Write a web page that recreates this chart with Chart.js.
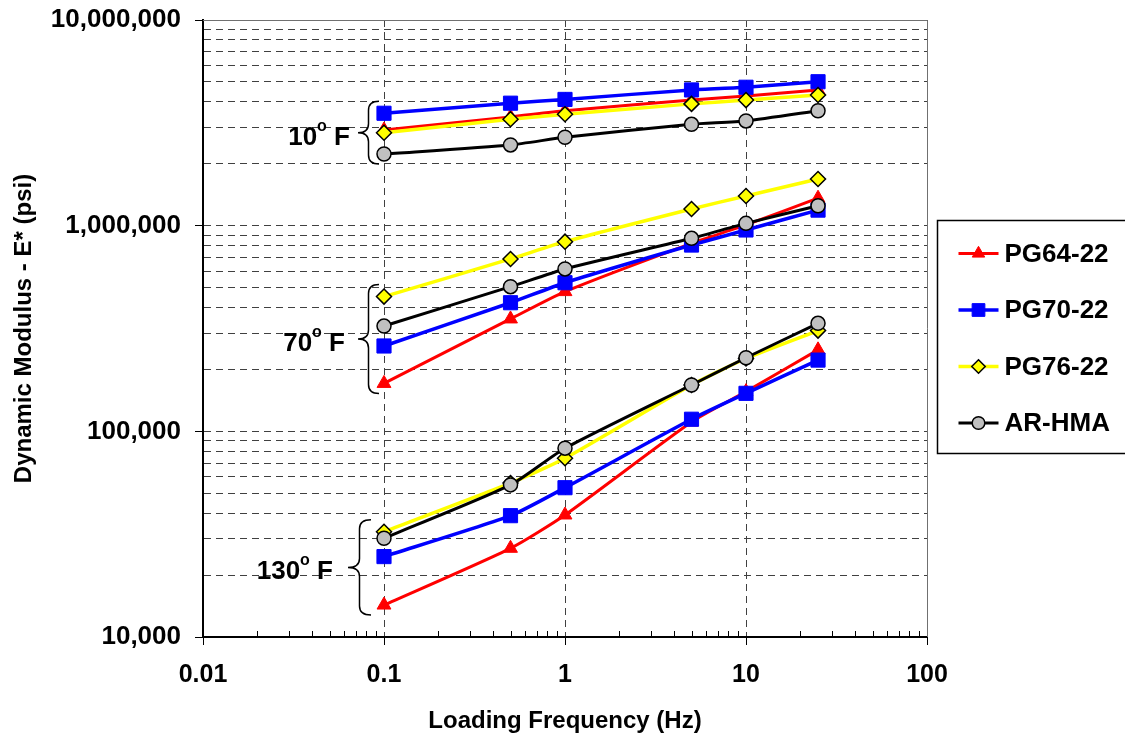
<!DOCTYPE html>
<html>
<head>
<meta charset="utf-8">
<title>Dynamic Modulus vs Loading Frequency</title>
<script src="https://cdn.jsdelivr.net/npm/chart.js@4.4.1/dist/chart.umd.min.js"></script>
<style>
    html, body { margin: 0; padding: 0; background: #fff; }
    #wrap { width: 1125px; height: 740px; }
</style>
</head>
<body>
<div id="wrap"><canvas id="modulusChart" width="1125" height="740"></canvas></div>
<script>
// --- Data ---
const freqs = [0.1, 0.5, 1, 5, 10, 25];

const pg6422_10F  = [2920000, 3380000, 3620000, 4080000, 4270000, 4570000];
const pg6422_70F  = [171000, 352000, 478000, 821000, 1008000, 1360000];
const pg6422_130F = [14300, 27000, 39200, 111000, 156000, 249000];

const pg7022_10F  = [3520000, 3940000, 4110000, 4570000, 4710000, 5010000];
const pg7022_70F  = [260000, 422000, 528000, 805000, 953000, 1190000];
const pg7022_130F = [24600, 38900, 53200, 114500, 153000, 222000];

const pg7622_10F  = [2830000, 3290000, 3480000, 3910000, 4080000, 4320000];
const pg7622_70F  = [452000, 689000, 836000, 1206000, 1394000, 1687000];
const pg7622_130F = [32500, 56000, 74000, 168000, 226000, 309000];

const arhma_10F  = [2230000, 2470000, 2690000, 3110000, 3230000, 3620000];
const arhma_70F  = [325000, 505000, 616000, 868000, 1026000, 1250000];
const arhma_130F = [30200, 54900, 82800, 168000, 228000, 335000];

const xTickValues = [0.01, 0.1, 1, 10, 100];
const yTickValues = [10000, 100000, 1000000, 10000000];
const tempLabels = ['10', '70', '130'];

const FONT = 'Arial, "Liberation Sans", Helvetica, sans-serif';

// --- Series styles ---
const series = [
    { label: 'PG64-22', groups: [pg6422_10F, pg6422_70F, pg6422_130F],
      line: '#FF0000', fill: '#FF0000', stroke: '#FF0000', style: 'triangle', radius: 8, bw: 1, lw: 3, order: 4 },
    { label: 'PG70-22', groups: [pg7022_10F, pg7022_70F, pg7022_130F],
      line: '#0000FF', fill: '#0000FF', stroke: '#0000FF', style: 'rect', radius: 10, bw: 1, lw: 3.5, order: 3 },
    { label: 'PG76-22', groups: [pg7622_10F, pg7622_70F, pg7622_130F],
      line: '#FFFF00', fill: '#FFFF00', stroke: '#000000', style: 'rectRot', radius: 7.5, bw: 1.5, lw: 3.5, order: 2 },
    { label: 'AR-HMA', groups: [arhma_10F, arhma_70F, arhma_130F],
      line: '#000000', fill: '#C0C0C0', stroke: '#000000', style: 'circle', radius: 7, bw: 1.5, lw: 3, order: 1 }
];

// one dataset per material per temperature so the groups are not joined
const datasets = [];
series.forEach(s => {
    s.groups.forEach(vals => {
        datasets.push({
            label: s.label,
            data: freqs.map((f, i) => ({ x: f, y: vals[i] })),
            borderColor: s.line,
            borderWidth: s.lw,
            backgroundColor: s.fill,
            pointStyle: s.style,
            pointRadius: s.radius,
            pointHoverRadius: s.radius,
            pointBackgroundColor: s.fill,
            pointBorderColor: s.stroke,
            pointBorderWidth: s.bw,
            tension: 0.2,
            fill: false,
            order: s.order
        });
    });
});

function isDecade(v) {
    const l = Math.log10(v);
    return Math.abs(l - Math.round(l)) < 1e-9;
}

function logTicks(lo, hi) {
    const out = [];
    for (let e = lo; e < hi; e++) {
        for (let m = 1; m <= 9; m++) {
            out.push({ value: Number((m * Math.pow(10, e)).toPrecision(3)) });
        }
    }
    out.push({ value: Math.pow(10, hi) });
    return out;
}

function drawMarker(ctx, style, x, y, r, fill, stroke, bw) {
    ctx.save();
    ctx.fillStyle = fill;
    ctx.strokeStyle = stroke;
    ctx.lineWidth = bw;
    ctx.beginPath();
    if (style === 'rect') {
        const s = Math.SQRT1_2 * r;
        ctx.rect(x - s, y - s, 2 * s, 2 * s);
    } else if (style === 'rectRot') {
        ctx.moveTo(x, y - r); ctx.lineTo(x + r, y); ctx.lineTo(x, y + r); ctx.lineTo(x - r, y);
        ctx.closePath();
    } else if (style === 'triangle') {
        ctx.moveTo(x, y - r);
        ctx.lineTo(x + r * 0.866, y + r * 0.5);
        ctx.lineTo(x - r * 0.866, y + r * 0.5);
        ctx.closePath();
    } else {
        ctx.arc(x, y, r, 0, Math.PI * 2);
    }
    ctx.fill();
    ctx.stroke();
    ctx.restore();
}

function drawBrace(ctx, xTip, xRight, yTop, yBot) {
    const yMid = (yTop + yBot) / 2;
    const xm = (xTip + xRight) / 2;
    const r = 9;
    ctx.beginPath();
    ctx.moveTo(xRight, yTop);
    ctx.quadraticCurveTo(xm, yTop, xm, yTop + r);
    ctx.lineTo(xm, yMid - r);
    ctx.quadraticCurveTo(xm, yMid, xTip, yMid);
    ctx.quadraticCurveTo(xm, yMid, xm, yMid + r);
    ctx.lineTo(xm, yBot - r);
    ctx.quadraticCurveTo(xm, yBot, xRight, yBot);
    ctx.stroke();
}

// frame, inner minor ticks, temperature braces and the boxed legend
const extrasPlugin = {
    id: 'extras',
    beforeDatasetsDraw(chart) {
        const { ctx, chartArea: a, scales: { x } } = chart;
        ctx.save();
        // top / right frame
        ctx.strokeStyle = '#707070';
        ctx.lineWidth = 1;
        ctx.beginPath();
        ctx.moveTo(a.left, a.top + 0.5); ctx.lineTo(a.right + 0.5, a.top + 0.5);
        ctx.lineTo(a.right + 0.5, a.bottom);
        ctx.stroke();
        // minor x ticks pointing into the plot
        ctx.strokeStyle = '#000';
        ctx.lineWidth = 1;
        for (let e = -2; e < 2; e++) {
            for (let m = 2; m <= 9; m++) {
                const px = Math.round(x.getPixelForValue(m * Math.pow(10, e))) + 0.5;
                ctx.beginPath();
                ctx.moveTo(px, a.bottom);
                ctx.lineTo(px, a.bottom - 6);
                ctx.stroke();
            }
        }
        ctx.restore();
    },
    afterDraw(chart) {
        const { ctx, chartArea: a, scales: { x, y } } = chart;
        ctx.save();

        // temperature braces and labels
        const braceRightGap = [5, 5, 13];
        const braceWidth = [21, 21, 23];
        const textGap = [8, 13, 15];
        const x01 = x.getPixelForValue(freqs[0]);
        tempLabels.forEach((t, g) => {
            const px = series.map(s => y.getPixelForValue(s.groups[g][0]));
            const yTop = Math.min(...px) - 12;
            const yBot = Math.max(...px) + 10;
            const xRight = x01 - braceRightGap[g];
            const xTip = xRight - braceWidth[g];
            ctx.strokeStyle = '#000';
            ctx.lineWidth = 1.5;
            drawBrace(ctx, xTip, xRight, yTop, yBot);

            const yMid = (yTop + yBot) / 2;
            const base = yMid + 12;
            ctx.fillStyle = '#000';
            ctx.textBaseline = 'alphabetic';
            ctx.textAlign = 'left';
            ctx.font = 'bold 26px ' + FONT;
            const wNum = ctx.measureText(t).width;
            const wF = ctx.measureText(' F').width;
            ctx.font = 'bold 16px ' + FONT;
            const wO = ctx.measureText('o').width;
            let tx = xTip - textGap[g] - (wNum + wO + wF);
            ctx.font = 'bold 26px ' + FONT;
            ctx.fillText(t, tx, base);
            tx += wNum;
            ctx.font = 'bold 16px ' + FONT;
            ctx.fillText('o', tx, base - 14);
            tx += wO;
            ctx.font = 'bold 26px ' + FONT;
            ctx.fillText(' F', tx, base);
        });

        // legend box
        const lx = a.right + 10.5;
        const ly = a.top + 200.5;
        ctx.strokeStyle = '#000';
        ctx.lineWidth = 1.5;
        ctx.strokeRect(lx, ly, 200, 233);
        ctx.font = 'bold 26px ' + FONT;
        ctx.textBaseline = 'middle';
        ctx.textAlign = 'left';
        series.forEach((s, i) => {
            const cy = ly + 33 + i * 56.5;
            ctx.strokeStyle = s.line;
            ctx.lineWidth = s.lw;
            ctx.beginPath();
            ctx.moveTo(lx + 21, cy);
            ctx.lineTo(lx + 61, cy);
            ctx.stroke();
            drawMarker(ctx, s.style, lx + 41, cy, s.radius * 0.9, s.fill, s.stroke, s.bw);
            ctx.fillStyle = '#000';
            ctx.fillText(s.label, lx + 67, cy + 1);
        });
        ctx.restore();
    }
};

const ctx = document.getElementById('modulusChart').getContext('2d');

new Chart(ctx, {
    type: 'line',
    data: { datasets: datasets },
    plugins: [extrasPlugin],
    options: {
        responsive: false,
        animation: false,
        events: [],
        layout: { padding: { top: 20, right: 198, left: 0, bottom: 0 } },
        plugins: {
            legend: { display: false },
            tooltip: { enabled: false }
        },
        scales: {
            x: {
                type: 'logarithmic',
                min: 0.01,
                max: 100,
                afterBuildTicks: scale => { scale.ticks = logTicks(-2, 2); },
                afterFit: scale => {
                    scale.height = 103;
                    scale.paddingLeft = 0;
                    scale.paddingRight = 0;
                },
                ticks: {
                    autoSkip: false,
                    maxRotation: 0,
                    padding: 15,
                    color: '#000',
                    font: { family: FONT, size: 25, weight: 'bold' },
                    callback: v => (xTickValues.includes(v) ? String(v) : '')
                },
                grid: {
                    color: c => (c.tick && isDecade(c.tick.value) ? '#404040' : 'rgba(0,0,0,0)'),
                    tickColor: c => (c.tick && isDecade(c.tick.value) ? '#000' : 'rgba(0,0,0,0)'),
                    lineWidth: 1,
                    tickLength: 8
                },
                border: { display: true, color: '#000', width: 2, dash: [7, 5] },
                title: {
                    display: true,
                    text: 'Loading Frequency (Hz)',
                    color: '#000',
                    font: { family: FONT, size: 24, weight: 'bold' },
                    padding: { top: 0, bottom: 4 }
                }
            },
            y: {
                type: 'logarithmic',
                min: 10000,
                max: 10000000,
                afterBuildTicks: scale => { scale.ticks = logTicks(4, 7); },
                afterFit: scale => {
                    scale.width = 203;
                    scale.paddingTop = 0;
                    scale.paddingBottom = 0;
                },
                ticks: {
                    autoSkip: false,
                    padding: 14,
                    color: '#000',
                    font: { family: FONT, size: 26, weight: 'bold' },
                    callback: v => (yTickValues.includes(v) ? v.toLocaleString('en-US') : '')
                },
                grid: {
                    color: '#404040',
                    tickColor: c => (c.tick && isDecade(c.tick.value) ? '#000' : 'rgba(0,0,0,0)'),
                    lineWidth: 1,
                    tickLength: 8
                },
                border: { display: true, color: '#000', width: 2, dash: [7, 5] },
                title: {
                    display: true,
                    text: 'Dynamic Modulus - E* (psi)',
                    color: '#000',
                    font: { family: FONT, size: 24, weight: 'bold' },
                    padding: { top: 10, bottom: 0 }
                }
            }
        }
    }
});
</script>
</body>
</html>
